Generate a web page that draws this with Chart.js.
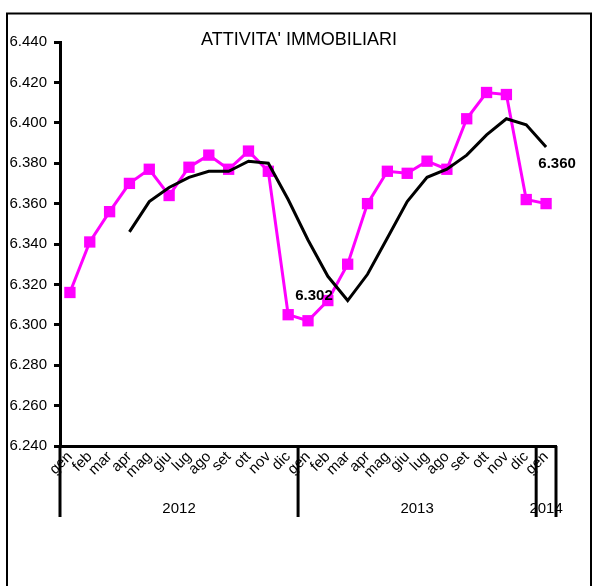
<!DOCTYPE html>
<html>
<head>
<meta charset="utf-8">
<script src="https://cdn.jsdelivr.net/npm/chart.js@4"></script>
<style>
  html, body { margin: 0; padding: 0; background: #fff; }
  canvas { display: block; }
</style>
</head>
<body>
<canvas id="chart" width="592" height="586"></canvas>
<script>
const FONT = "'Liberation Sans', Arial, sans-serif";
const TITLE = "ATTIVITA' IMMOBILIARI";

// month labels, gen 2012 .. gen 2014
const months = [
  'gen', 'feb', 'mar', 'apr', 'mag', 'giu', 'lug', 'ago', 'set', 'ott', 'nov', 'dic',
  'gen', 'feb', 'mar', 'apr', 'mag', 'giu', 'lug', 'ago', 'set', 'ott', 'nov', 'dic',
  'gen'
];
const years = ['2012', '2013', '2014'];
const yearStart = [0, 12, 24];   // first month index of each year

const monthly = [
  6.316, 6.341, 6.356, 6.370, 6.377, 6.364, 6.378, 6.384, 6.377, 6.386, 6.376, 6.305,
  6.302, 6.312, 6.330, 6.360, 6.376, 6.375, 6.381, 6.377, 6.402, 6.415, 6.414, 6.362,
  6.360
];
const trend = [
  null, null, null, 6.346, 6.361, 6.368, 6.373, 6.376, 6.376, 6.381, 6.380, 6.362,
  6.342, 6.324, 6.312, 6.325, 6.343, 6.361, 6.373, 6.377, 6.384, 6.394, 6.402, 6.399,
  6.388
];
const labelled = [12, 24];   // points that carry a value label

const yTicks = { min: 6.24, max: 6.44, step: 0.02 };

const framePlugin = {
    id: 'frame',
    beforeDraw(chart) {
        const ctx = chart.ctx;
        ctx.save();
        ctx.fillStyle = '#fff';
        ctx.fillRect(0, 0, chart.width, chart.height);
        ctx.restore();
    },
    afterDraw(chart) {
        const ctx = chart.ctx;
        const x = chart.scales.x;
        const area = chart.chartArea;
        ctx.save();

        // outer box
        ctx.strokeStyle = '#000';
        ctx.lineWidth = 2;
        ctx.strokeRect(7, 13.5, 584, 620);

        // title
        ctx.fillStyle = '#000';
        ctx.font = '18px ' + FONT;
        ctx.textAlign = 'center';
        ctx.textBaseline = 'alphabetic';
        ctx.fillText(TITLE, 299, 45);

        // year separators and year labels
        const bounds = yearStart.concat([months.length]);
        ctx.lineWidth = 3;
        bounds.forEach(b => {
            const px = x.getPixelForValue(b - 0.5);
            ctx.beginPath();
            ctx.moveTo(px, area.bottom);
            ctx.lineTo(px, area.bottom + 71);
            ctx.stroke();
        });
        ctx.font = '15px ' + FONT;
        ctx.textBaseline = 'middle';
        years.forEach((yr, i) => {
            const a = x.getPixelForValue(bounds[i] - 0.5);
            const b = x.getPixelForValue(bounds[i + 1] - 0.5);
            ctx.fillText(yr, (a + b) / 2, area.bottom + 63);
        });

        // value labels
        const meta = chart.getDatasetMeta(1);
        ctx.font = 'bold 15px ' + FONT;
        const offsets = [[6, -25], [11, -40]];
        labelled.forEach((idx, i) => {
            const pt = meta.data[idx];
            ctx.fillText(monthly[idx].toFixed(3), pt.x + offsets[i][0], pt.y + offsets[i][1]);
        });
        ctx.restore();
    }
};

new Chart(document.getElementById('chart'), {
    type: 'line',
    data: {
        labels: months,
        datasets: [{
            data: trend,
            borderColor: '#000',
            borderWidth: 3,
            pointRadius: 0,
            fill: false,
            tension: 0,
            order: 0
        }, {
            data: monthly,
            borderColor: '#ff00ff',
            backgroundColor: '#ff00ff',
            borderWidth: 3,
            pointStyle: 'rect',
            pointRadius: 8,
            pointBorderWidth: 0,
            fill: false,
            tension: 0,
            order: 1
        }]
    },
    options: {
        responsive: false,
        animation: false,
        layout: { padding: { left: 0, right: 36, top: 42, bottom: 0 } },
        plugins: {
            legend: { display: false },
            tooltip: { enabled: false }
        },
        scales: {
            x: {
                offset: true,
                grid: { display: false, drawTicks: false },
                border: { display: true, color: '#000', width: 3 },
                ticks: {
                    color: '#000',
                    font: { family: FONT, size: 15 },
                    minRotation: 45,
                    maxRotation: 45,
                    autoSkip: false,
                    padding: 2
                },
                afterFit: s => { s.height = 140; }
            },
            y: {
                min: yTicks.min,
                max: yTicks.max,
                grid: { drawOnChartArea: false, color: '#000', lineWidth: 3, tickLength: 6 },
                border: { color: '#000', width: 3 },
                ticks: {
                    stepSize: yTicks.step,
                    color: '#000',
                    font: { family: FONT, size: 15 },
                    padding: 7,
                    callback: v => v.toFixed(3)
                },
                afterFit: s => { s.width = 60; }
            }
        }
    },
    plugins: [framePlugin]
});
</script>
</body>
</html>
